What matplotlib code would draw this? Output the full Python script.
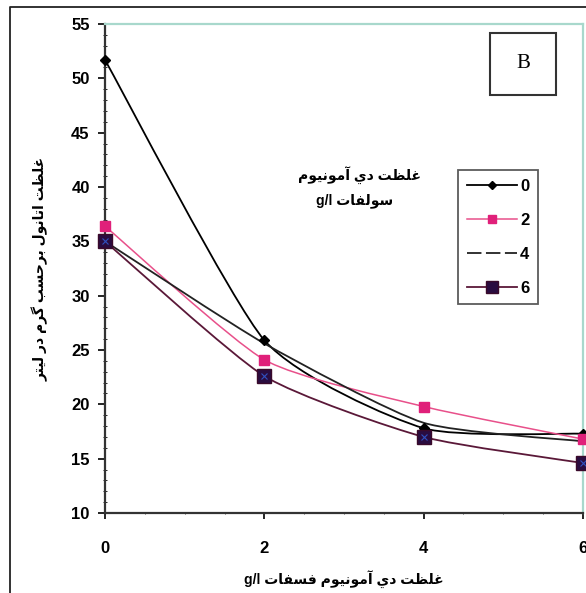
import matplotlib
matplotlib.use("Agg")
import numpy as np
import matplotlib.pyplot as plt
from matplotlib.path import Path
from matplotlib.patches import PathPatch, Rectangle
from matplotlib.lines import Line2D
from matplotlib.ticker import MultipleLocator

# ammonium phosphate dose (g/l) and ethanol (g/l) per ammonium sulfate dose
dap = [0, 2, 4, 6]
ethanol_0 = [51.7, 25.9, 17.8, 17.3]
ethanol_2 = [36.4, 24.1, 19.8, 16.8]
ethanol_4 = [35.0, 25.6, 18.3, 16.6]
ethanol_6 = [35.0, 22.6, 17.0, 14.6]
series_labels = ["0", "2", "4", "6"]

x_label = "غلظت دي آمونيوم فسفات g/l"
y_label = "غلظت اتانول برحسب گرم در ليتر"
legend_title = ["غلظت دي آمونيوم", "سولفات g/l"]

# contextual forms: isolated, final, initial, medial (None = does not join forward)
FORMS = {
    "ا": ("\uFE8D", "\uFE8E", None, None),
    "آ": ("\uFE81", "\uFE82", None, None),
    "ب": ("\uFE8F", "\uFE90", "\uFE91", "\uFE92"),
    "ت": ("\uFE95", "\uFE96", "\uFE97", "\uFE98"),
    "ح": ("\uFEA1", "\uFEA2", "\uFEA3", "\uFEA4"),
    "د": ("\uFEA9", "\uFEAA", None, None),
    "ر": ("\uFEAD", "\uFEAE", None, None),
    "س": ("\uFEB1", "\uFEB2", "\uFEB3", "\uFEB4"),
    "ظ": ("\uFEC5", "\uFEC6", "\uFEC7", "\uFEC8"),
    "غ": ("\uFECD", "\uFECE", "\uFECF", "\uFED0"),
    "ف": ("\uFED1", "\uFED2", "\uFED3", "\uFED4"),
    "ل": ("\uFEDD", "\uFEDE", "\uFEDF", "\uFEE0"),
    "م": ("\uFEE1", "\uFEE2", "\uFEE3", "\uFEE4"),
    "ن": ("\uFEE5", "\uFEE6", "\uFEE7", "\uFEE8"),
    "و": ("\uFEED", "\uFEEE", None, None),
    "ي": ("\uFEF1", "\uFEF2", "\uFEF3", "\uFEF4"),
    "گ": ("\uFB92", "\uFB93", "\uFB94", "\uFB95"),
}


def shape_word(word):
    out = []
    for i, ch in enumerate(word):
        if ch not in FORMS:
            out.append(ch)
            continue
        prev = word[i - 1] if i > 0 else None
        nxt = word[i + 1] if i + 1 < len(word) else None
        joins_prev = prev in FORMS and FORMS[prev][2] is not None
        joins_next = nxt in FORMS and FORMS[ch][2] is not None
        iso, fin, ini, med = FORMS[ch]
        if joins_prev and joins_next:
            out.append(med)
        elif joins_prev:
            out.append(fin)
        elif joins_next:
            out.append(ini)
        else:
            out.append(iso)
    return "".join(out)


def rtl(text):
    # visual order: Arabic words reversed, latin words kept as they are
    words = text.split(" ")
    shaped = [shape_word(w)[::-1] if any(c in FORMS for c in w) else w for w in words]
    return " ".join(shaped[::-1])


def smooth_path(xs, ys, k=0.1):
    # cubic bezier through the points, like spreadsheet "smoothed lines"
    pts = np.column_stack([xs, ys]).astype(float)
    n = len(pts)
    verts = [pts[0]]
    codes = [Path.MOVETO]
    for i in range(n - 1):
        p0 = pts[i - 1] if i > 0 else pts[i]
        p1 = pts[i]
        p2 = pts[i + 1]
        p3 = pts[i + 2] if i + 2 < n else pts[i + 1]
        c1 = p1 + (p2 - p0) * k
        c2 = p2 - (p3 - p1) * k
        verts += [c1, c2, p2]
        codes += [Path.CURVE4] * 3
    return Path(verts, codes)


plt.rcParams["font.family"] = ["Liberation Sans", "DejaVu Sans"]
plt.rcParams["font.weight"] = "bold"

fig = plt.figure(figsize=(5.86, 5.93), dpi=100)
ax = fig.add_axes([105 / 586, 80 / 593, 478 / 586, 489 / 593])

pink = "#e8508a"
pink_mark = "#e0207a"
plum = "#5a1838"

styles = [
    dict(color="black", lw=1.3, ls="-", marker="D", ms=5, mfc="black", mec="black"),
    dict(color=pink, lw=1.1, ls="-", marker="s", ms=6.5, mfc=pink_mark, mec=pink_mark),
    dict(color="#222222", lw=1.3, ls=(0, (8, 2.5)), marker=None, ms=0, mfc="none", mec="none"),
    dict(color=plum, lw=1.3, ls="-", marker="s", ms=10, mfc="#2a0c40", mec="#3a0a2a"),
]
all_series = [ethanol_0, ethanol_2, ethanol_4, ethanol_6]

handles = []
for vals, st, lab in zip(all_series, styles, series_labels):
    patch = PathPatch(smooth_path(dap, vals), facecolor="none", edgecolor=st["color"],
                      lw=st["lw"], ls="-", transform=ax.transData, zorder=2,
                      clip_on=False)
    ax.add_patch(patch)
    if st["marker"]:
        ax.plot(dap, vals, ls="none", marker=st["marker"], ms=st["ms"],
                mfc=st["mfc"], mec=st["mec"], zorder=3, clip_on=False)
    handles.append(Line2D([], [], color=st["color"], lw=st["lw"], ls=st["ls"],
                          marker=st["marker"], ms=st["ms"] * 0.85,
                          mfc=st["mfc"], mec=st["mec"]))

# blue cross inside the dark squares
ax.plot(dap, ethanol_6, ls="none", marker="x", ms=4, mew=0.8, color="#3050c0",
        zorder=4, clip_on=False)

ax.set_xlim(0, 6)
ax.set_ylim(10, 55)
ax.set_xticks(dap)
ax.yaxis.set_major_locator(MultipleLocator(5))
ax.yaxis.set_minor_locator(MultipleLocator(1))
ax.xaxis.set_minor_locator(MultipleLocator(0.5))

for side in ("top", "right"):
    ax.spines[side].set_color("#a8d8cc")
    ax.spines[side].set_linewidth(1.6)
for side in ("left", "bottom"):
    ax.spines[side].set_color("#333333")
    ax.spines[side].set_linewidth(1.6)

ax.tick_params(axis="y", which="major", direction="out", length=5, width=1.2,
               labelsize=12, pad=6)
ax.tick_params(axis="y", which="minor", direction="inout", length=3, width=0.6)
ax.tick_params(axis="x", which="major", direction="out", length=4, width=1.2,
               labelsize=12, pad=16)
ax.tick_params(axis="x", which="minor", direction="inout", length=2, width=0.5)
for t in ax.get_xticklabels() + ax.get_yticklabels():
    t.set_fontweight("bold")

ax.set_xlabel(rtl(x_label), fontsize=10, fontweight="bold", labelpad=10)
ax.set_ylabel(rtl(y_label), fontsize=10, fontweight="bold", labelpad=16)

leg = ax.legend(handles, series_labels, loc="upper left",
                bbox_to_anchor=(345 / 478, 1 - 138 / 489), frameon=True,
                fancybox=False, handlelength=3.0, handletextpad=0.2,
                labelspacing=1.15, borderpad=0.5, markerfirst=True,
                prop=dict(size=12, weight="bold"))
leg.get_frame().set_edgecolor("#333333")
leg.get_frame().set_linewidth(1.3)

ax.text(254 / 478, 1 - 151 / 489, rtl(legend_title[0]), transform=ax.transAxes,
        ha="center", va="center", fontsize=10, fontweight="bold")
ax.text(250 / 478, 1 - 177 / 489, rtl(legend_title[1]), transform=ax.transAxes,
        ha="center", va="center", fontsize=10, fontweight="bold")

# panel tag
ax.add_patch(Rectangle((385 / 478, 1 - 71 / 489), 66 / 478, 62 / 489,
                       transform=ax.transAxes, facecolor="white",
                       edgecolor="#333333", lw=1.5, zorder=5))
ax.text(418 / 478, 1 - 40 / 489, "B", transform=ax.transAxes, ha="center",
        va="center", fontsize=15, family="Liberation Serif", fontweight="normal",
        zorder=6)

# surrounding frame
fig.add_artist(Line2D([10 / 586, 10 / 586, 1], [0, 1 - 7 / 593, 1 - 7 / 593],
                      transform=fig.transFigure, color="#222222", lw=1.3))

fig.savefig("out.png", dpi=100)
